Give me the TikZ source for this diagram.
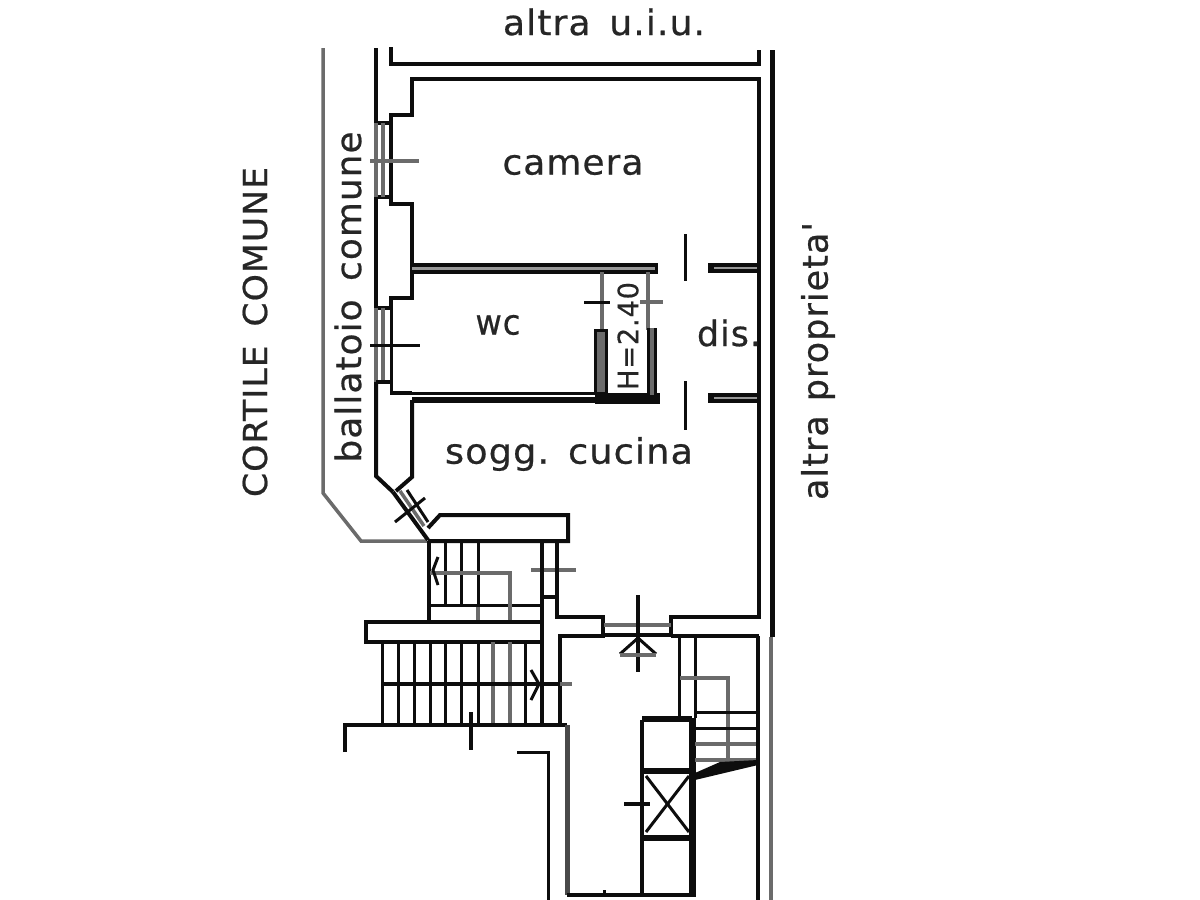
\documentclass[tikz,border=0pt]{standalone}
\usepackage{fontspec}
\usepackage{graphicx}
\setmainfont{DejaVu Sans}
\newfontfamily\planfont[LetterSpace=3,FakeBold=0.6]{DejaVu Sans}
\newcommand{\lab}[3]{{\fontsize{#1}{#1}\planfont\resizebox{#2pt}{\height}{#3}}}
\definecolor{softgrey}{gray}{0.42}
\definecolor{ink}{gray}{0.05}
\definecolor{textink}{gray}{0.15}
\tikzset{
  wall/.style={draw=ink,line width=4pt,line join=miter},
  heavy/.style={draw=ink,line width=6.5pt,line join=miter},
  fine/.style={draw=ink,line width=3pt,line join=miter},
  soft/.style={draw=softgrey,line width=3.5pt,line join=miter},
  planlabel/.style={inner sep=0pt,text=textink}
}
\begin{document}
\begin{tikzpicture}[x=1pt,y=-1pt]
\useasboundingbox (0,0) rectangle (1200,900);
\fill[white] (0,0) rectangle (1200,900);
% top unit
\draw[wall] (376,48) -- (376,123) -- (391,123);
\draw[wall] (391,47) -- (391,64) -- (759,64) -- (759,50);
\draw[draw=ink,line width=5pt] (772,50) -- (772,637);
\draw[soft] (323,48) -- (323,493) -- (361,541) -- (427,541);
% flat perimeter
\draw[wall] (391,197) -- (391,115) -- (412,115) -- (412,79) -- (759,79) -- (759,617) -- (671,617) -- (671,636);
\draw[wall] (376,197) -- (391,197);
\draw[soft] (376,123) -- (376,197);
\draw[soft] (383,123) -- (383,197);
\draw[soft] (370,161) -- (419,161);
\draw[wall] (376,197) -- (376,308) -- (391,308);
\draw[wall] (391,197) -- (391,204) -- (412,204) -- (412,298) -- (391,298) -- (391,308);
% camera / wc wall
\draw[draw=ink,line width=11pt] (412,268) -- (658,268);
\draw[draw=softgrey!70,line width=3pt] (412,268) -- (655,268);
% right stubs
\draw[draw=ink,line width=10pt] (708,268) -- (759,268);
\draw[draw=softgrey!70,line width=2.5pt] (714,268) -- (757,268);
\draw[draw=ink,line width=10pt] (708,398) -- (759,398);
\draw[draw=softgrey!70,line width=2.5pt] (714,398) -- (757,398);
% door ticks
\draw[fine] (685,234) -- (685,281);
\draw[fine] (685,381) -- (685,430);
% wc window
\draw[fine] (391,308) -- (391,393) -- (600,393);
\draw[soft] (376,308) -- (376,382);
\draw[soft] (383,308) -- (383,382);
\draw[wall] (376,382) -- (391,382);
\draw[fine] (370,345) -- (420,345);
% wc / sogg wall
\draw[draw=ink,line width=6pt] (412,400) -- (660,400);
\draw[wall] (391,393) -- (412,393);
\fill[ink] (595,393) rectangle (660,404);
% cupboard
\draw[soft] (602,272) -- (602,330);
\draw[soft] (648,272) -- (648,330);
\fill[softgrey] (595,330) rectangle (606,393);
\draw[fine] (595,330) rectangle (606,393);
\fill[softgrey] (648,328) rectangle (655,395);
\draw[fine] (655,328) -- (655,400);
\draw[fine] (648,328) -- (648,395);
\draw[fine] (584,302) -- (610,302);
\draw[soft] (640,302) -- (663,302);
% sogg left walls
\draw[wall] (376,382) -- (376,476) -- (393,492);
\draw[wall] (412,400) -- (412,477) -- (396,491);
% diagonal window
\draw[wall] (393,492) -- (428,540);
\draw[fine] (407,490) -- (428,522);
\draw[soft] (400,491) -- (424,526);
\draw[fine] (395,522) -- (425,498);
% balcony upper
\draw[wall] (428,528) -- (440,515) -- (568,515) -- (568,541) -- (428,541);
% upper stairs
\draw[wall] (429,541) -- (429,622);
\foreach \x in {445,461,478}{\draw[fine] (\x,541) -- (\x,605);}
\draw[soft] (478,605) -- (478,622);
\draw[fine] (430,605) -- (542,605);
\draw[soft] (430,573) -- (510,573) -- (510,622);
\draw[fine] (438,557) -- (433,570) -- (438,585);
\draw[soft] (531,570) -- (576,570);
% vertical pier
\draw[wall] (542,541) -- (542,725);
\draw[wall] (557,541) -- (557,597) -- (542,597);
\draw[wall] (557,597) -- (557,617) -- (603,617) -- (603,636) -- (560,636) -- (560,725);
% slab
\draw[wall] (540,622) -- (366,622) -- (366,642) -- (540,642);
% door threshold
\draw[soft] (604,625) -- (671,625);
\draw[wall] (604,635) -- (671,635);
% main door symbol
\draw[wall] (638,595) -- (638,672);
\draw[fine] (620,654) -- (638,638) -- (656,654);
\draw[draw=softgrey,line width=4pt] (620,655) -- (656,655);
% lower stairs
\foreach \x in {382,398,414,430,445,461,478,525}{\draw[fine] (\x,642) -- (\x,725);}
\foreach \x in {493,510}{\draw[soft] (\x,642) -- (\x,725);}
\draw[wall] (382,684) -- (560,684);
\draw[soft] (560,684) -- (572,684);
\draw[fine] (531,670) -- (539,684) -- (531,700);
\draw[wall] (345,752) -- (345,725) -- (567,725);
\draw[wall] (471,712) -- (471,750);
\draw[fine] (517,752) -- (548,752) -- (548,900);
\draw[draw=ink!75!white,line width=5pt] (567,725) -- (567,895);
\draw[wall] (567,895) -- (692,895);
\draw[fine] (604,890) -- (604,895);
% lift
\draw[draw=ink,line width=7pt] (692,718) -- (692,897);
\draw[wall] (642,720) -- (642,895);
\draw[heavy] (642,719) -- (692,719);
\draw[heavy] (642,771) -- (692,771);
\draw[heavy] (642,838) -- (692,838);
\draw[fine] (646,776) -- (689,832);
\draw[fine] (689,776) -- (646,832);
\draw[wall] (624,804) -- (650,804);
% right stairs
\draw[wall] (671,636) -- (759,636);
\draw[fine] (679,636) -- (679,718);
\draw[fine] (695,636) -- (695,718);
\draw[soft] (680,678) -- (728,678) -- (728,762);
\draw[fine] (695,712) -- (758,712);
\draw[fine] (695,728) -- (758,728);
\draw[soft] (695,744) -- (758,744);
\draw[soft] (695,760) -- (758,760);
\fill[ink] (695,773) -- (720,762) -- (758,760) -- (758,765) -- (695,780) -- cycle;
\draw[wall] (758,636) -- (758,900);
\draw[soft] (771,637) -- (771,900);
% labels
\node[planlabel] (altra) at (604,22) {\lab{35}{202}{altra\hspace{18pt}u.i.u.}};
\node[planlabel] (camera) at (573,165) {\lab{35}{141}{camera}};
\node[planlabel] (wc) at (498,325) {\lab{35}{45}{wc}};
\node[planlabel] (dis) at (729,333) {\lab{35}{64}{dis.}};
\node[planlabel] (sogg) at (569,454) {\lab{35}{248}{sogg.\hspace{18pt}cucina}};
\node[planlabel,rotate=90] (ballatoio) at (348,297) {\lab{35}{331}{ballatoio\hspace{18pt}comune}};
\node[planlabel,rotate=90] (cortile) at (255,332) {\lab{33}{330}{CORTILE\hspace{18pt}COMUNE}};
\node[planlabel,rotate=90] (proprieta) at (818,361) {\lab{35}{278}{altra\hspace{14pt}proprieta'}};
\node[planlabel,rotate=90] (h) at (628,336) {\lab{28}{108}{H=2.40}};
\end{tikzpicture}
\end{document}
